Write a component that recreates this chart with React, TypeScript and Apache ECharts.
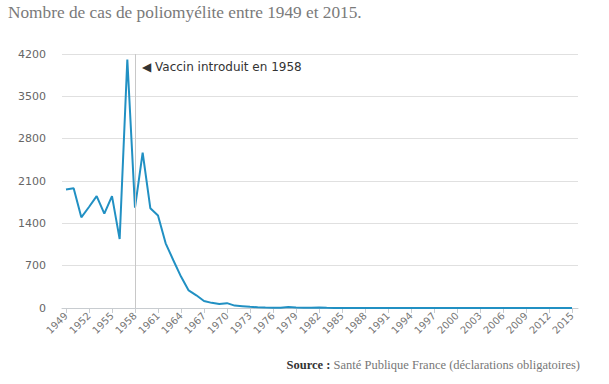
import React, { useEffect, useRef } from "react";
import * as echarts from "echarts";

const years: number[] = [
  1949, 1950, 1951, 1952, 1953, 1954, 1955, 1956, 1957, 1958,
  1959, 1960, 1961, 1962, 1963, 1964, 1965, 1966, 1967, 1968,
  1969, 1970, 1971, 1972, 1973, 1974, 1975, 1976, 1977, 1978,
  1979, 1980, 1981, 1982, 1983, 1984, 1985, 1986, 1987, 1988,
  1989, 1990, 1991, 1992, 1993, 1994, 1995, 1996, 1997, 1998,
  1999, 2000, 2001, 2002, 2003, 2004, 2005, 2006, 2007, 2008,
  2009, 2010, 2011, 2012, 2013, 2014, 2015,
];

const cases: number[] = [
  1960, 1980, 1500, 1670, 1850, 1560, 1850, 1140, 4110, 1660,
  2570, 1650, 1530, 1070, 790, 520, 290, 210, 115, 85,
  65, 80, 40, 30, 20, 12, 8, 5, 5, 18,
  10, 6, 4, 10, 3, 2, 1, 1, 0, 0,
  0, 0, 0, 0, 0, 0, 0, 0, 0, 0,
  0, 0, 0, 0, 0, 0, 0, 0, 0, 0,
  0, 0, 0, 0, 0, 0, 0,
];

const xTickYears: number[] = [
  1949, 1952, 1955, 1958, 1961, 1964, 1967, 1970, 1973, 1976, 1979,
  1982, 1985, 1988, 1991, 1994, 1997, 2000, 2003, 2006, 2009, 2012, 2015,
];

const vaccineYear = 1958;
const titleText = "Nombre de cas de poliomyélite entre 1949 et 2015.";
const annotationText = "◀ Vaccin introduit en 1958";
const sourceLabel = "Source :";
const sourceText = " Santé Publique France (déclarations obligatoires)";

export default function App() {
  const ref = useRef<HTMLDivElement>(null);
  useEffect(() => {
    document.body.style.margin = "0";
    if (!ref.current) return;
    const chart = echarts.init(ref.current, null, { renderer: "svg" });
    chart.setOption({
      animation: false,
      backgroundColor: "#ffffff",
      grid: {
        left: 62,
        right: 31,
        top: 54,
        bottom: 76,
        containLabel: false,
        outerBoundsMode: "none",
      },
      xAxis: {
        type: "value",
        min: 1948.48,
        max: 2015.78,
        splitLine: { show: false },
        axisLine: { show: true, lineStyle: { color: "#c8ccd0", width: 1 } },
        axisTick: {
          show: true,
          length: 5,
          lineStyle: { color: "#c8ccd0" },
          customValues: xTickYears,
        },
        axisLabel: {
          customValues: xTickYears,
          rotate: 45,
          color: "#777777",
          fontFamily: "DejaVu Sans",
          fontSize: 10,
          margin: 6,
          formatter: (v: number) => String(Math.round(v)),
        },
      },
      yAxis: {
        type: "value",
        min: 0,
        max: 4200,
        interval: 700,
        axisLine: { show: false },
        axisTick: { show: false },
        splitLine: { lineStyle: { color: "#e0e0e0", width: 1 } },
        axisLabel: {
          color: "#666666",
          fontFamily: "DejaVu Sans",
          fontSize: 11,
          margin: 16,
          formatter: (v: number) => String(v),
        },
      },
      series: [
        {
          type: "line",
          data: years.map((y, i) => [y, cases[i]]),
          showSymbol: false,
          symbol: "none",
          lineStyle: { color: "#2190c3", width: 2 },
          markLine: {
            silent: true,
            symbol: "none",
            label: { show: false },
            lineStyle: { color: "#c8c8c8", width: 1, type: "solid" },
            data: [{ xAxis: vaccineYear }],
          },
          z: 3,
        },
      ],
      graphic: [
        {
          type: "text",
          left: 8,
          top: 4,
          style: {
            text: titleText,
            fill: "#7a7a7a",
            font: '17.3px "Liberation Serif", serif',
          },
        },
        {
          type: "text",
          x: 142,
          y: 67,
          style: {
            text: annotationText,
            fill: "#333333",
            font: '12px "DejaVu Sans", sans-serif',
            verticalAlign: "middle",
            textAlign: "left",
          },
        },
        {
          type: "text",
          x: 580,
          y: 365,
          style: {
            text: "{b|" + sourceLabel + "}{n|" + sourceText + "}",
            textAlign: "right",
            verticalAlign: "middle",
            rich: {
              b: {
                fill: "#333333",
                fontWeight: "bold",
                fontFamily: '"Liberation Serif", serif',
                fontSize: 12.5,
              },
              n: {
                fill: "#777777",
                fontFamily: '"Liberation Serif", serif',
                fontSize: 12.5,
              },
            },
          },
        },
      ],
    });
    return () => chart.dispose();
  }, []);
  return <div ref={ref} style={{ width: 609, height: 384 }} />;
}
